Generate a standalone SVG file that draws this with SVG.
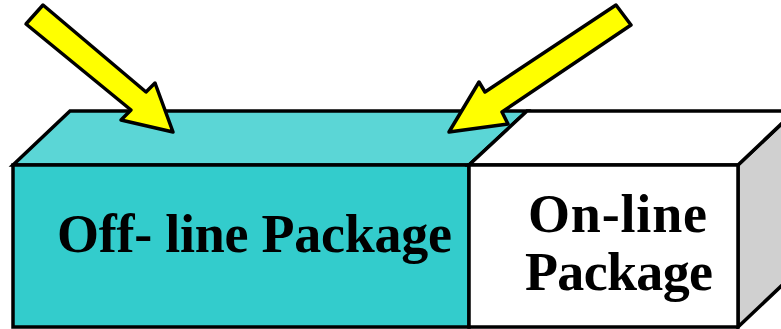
<svg xmlns="http://www.w3.org/2000/svg" width="781" height="329" viewBox="0 0 781 329">
<style>
.edge{stroke:#000;stroke-width:3.5;stroke-linejoin:miter}
.arrow{fill:#FFFF00;stroke:#000;stroke-width:3.5;stroke-linejoin:round}
.lbl{font-family:"Liberation Serif","Times New Roman",serif;font-weight:bold;font-size:54px;fill:#000}
</style>
<rect width="781" height="329" fill="#fff"/>
<g id="side">
<polygon class="edge" points="738,165 795,111 795,273 738,327" fill="#D0D0D0"/>
</g>
<g id="offline">
<polygon class="edge" points="13,165 70,111 527,111 469,165" fill="#5BD6D6"/>
<rect class="edge" x="13" y="165" width="456" height="162" fill="#33CCCC"/>
<text class="lbl" x="57" y="252" textLength="395" lengthAdjust="spacing">Off- line Package</text>
</g>
<g id="online">
<polygon class="edge" points="469,165 527,111 795,111 738,165" fill="#fff"/>
<rect class="edge" x="469" y="165" width="269" height="162" fill="#fff"/>
<text class="lbl" x="528" y="232" textLength="179" lengthAdjust="spacing">On-line</text>
<text class="lbl" x="525" y="290" textLength="188" lengthAdjust="spacing">Package</text>
</g>
<g id="connectors">
<polygon class="arrow" points="43,5 146,92 155,83 173,132 121,120 131,110 26,24"/>
<polygon class="arrow" points="616,5 631,25 502,112 508,124 449,132 479,82 485,92"/>
</g>
</svg>
